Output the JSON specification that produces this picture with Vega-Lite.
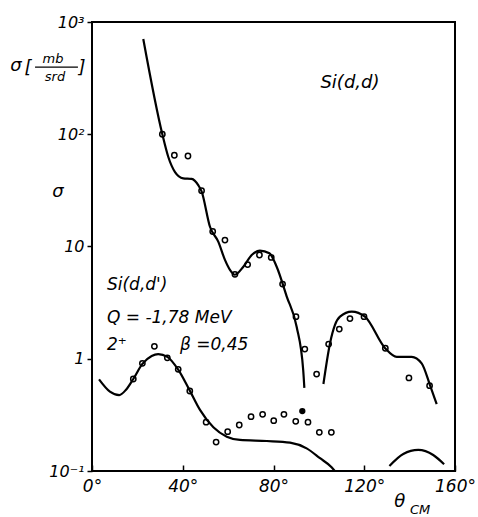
{
  "$schema": "https://vega.github.io/schema/vega-lite/v6.json",
  "width": 363,
  "height": 449,
  "autosize": "none",
  "padding": {"left": 92, "top": 22, "right": 23, "bottom": 46},
  "background": "white",
  "config": {
    "view": {"stroke": "black", "strokeWidth": 2},
    "axis": {"grid": false, "domain": false, "tickColor": "black", "tickWidth": 1.5, "labelColor": "black", "labelFont": "DejaVu Sans", "labelFontStyle": "italic"}
  },
  "datasets": {
    "curves": [
      {"seg": "A", "x": 22.6, "y": 706}, {"seg": "A", "x": 31.0, "y": 100}, {"seg": "A", "x": 33.6, "y": 63}, {"seg": "A", "x": 36.6, "y": 46}, {"seg": "A", "x": 40.2, "y": 40.5}, {"seg": "A", "x": 43.9, "y": 40}, {"seg": "A", "x": 46.9, "y": 35}, {"seg": "A", "x": 48.3, "y": 31}, {"seg": "A", "x": 52.0, "y": 15}, {"seg": "A", "x": 55.7, "y": 11.0}, {"seg": "A", "x": 58.6, "y": 7.6}, {"seg": "A", "x": 60.8, "y": 6.2}, {"seg": "A", "x": 63.0, "y": 5.6}, {"seg": "A", "x": 66.7, "y": 6.6}, {"seg": "A", "x": 70.4, "y": 8.4}, {"seg": "A", "x": 74.0, "y": 9.2}, {"seg": "A", "x": 78.2, "y": 8.7}, {"seg": "A", "x": 81.4, "y": 6.6}, {"seg": "A", "x": 85.8, "y": 3.6}, {"seg": "A", "x": 90.2, "y": 1.93}, {"seg": "A", "x": 93.1, "y": 0.79}, {"seg": "A", "x": 93.6, "y": 0.55},
      {"seg": "B", "x": 102.0, "y": 0.596}, {"seg": "B", "x": 104.9, "y": 1.37}, {"seg": "B", "x": 107.1, "y": 2.0}, {"seg": "B", "x": 109.3, "y": 2.37}, {"seg": "B", "x": 114.5, "y": 2.63}, {"seg": "B", "x": 120.3, "y": 2.37}, {"seg": "B", "x": 129.2, "y": 1.24}, {"seg": "B", "x": 134.3, "y": 1.04}, {"seg": "B", "x": 140.9, "y": 1.04}, {"seg": "B", "x": 145.3, "y": 0.91}, {"seg": "B", "x": 149.0, "y": 0.58}, {"seg": "B", "x": 151.9, "y": 0.395},
      {"seg": "C", "x": 3.1, "y": 0.656}, {"seg": "C", "x": 7.9, "y": 0.51}, {"seg": "C", "x": 12.0, "y": 0.475}, {"seg": "C", "x": 15.0, "y": 0.53}, {"seg": "C", "x": 18.2, "y": 0.66}, {"seg": "C", "x": 22.2, "y": 0.9}, {"seg": "C", "x": 26.3, "y": 1.06}, {"seg": "C", "x": 29.2, "y": 1.1}, {"seg": "C", "x": 33.2, "y": 1.04}, {"seg": "C", "x": 38.0, "y": 0.8}, {"seg": "C", "x": 43.1, "y": 0.52}, {"seg": "C", "x": 47.6, "y": 0.35}, {"seg": "C", "x": 53.5, "y": 0.245}, {"seg": "C", "x": 59.4, "y": 0.202}, {"seg": "C", "x": 65.2, "y": 0.189}, {"seg": "C", "x": 77.0, "y": 0.185}, {"seg": "C", "x": 87.3, "y": 0.179}, {"seg": "C", "x": 94.6, "y": 0.159}, {"seg": "C", "x": 100.5, "y": 0.13}, {"seg": "C", "x": 105.6, "y": 0.108}, {"seg": "C", "x": 107.0, "y": 0.1},
      {"seg": "D", "x": 131.1, "y": 0.111}, {"seg": "D", "x": 137.2, "y": 0.142}, {"seg": "D", "x": 143.8, "y": 0.154}, {"seg": "D", "x": 150.4, "y": 0.139}, {"seg": "D", "x": 155.2, "y": 0.115}
    ],
    "points": [
      {"kind": "open", "x": 31.0, "y": 100}, {"kind": "open", "x": 36.3, "y": 65}, {"kind": "open", "x": 42.3, "y": 64}, {"kind": "open", "x": 48.3, "y": 31.4}, {"kind": "open", "x": 53.2, "y": 13.6}, {"kind": "open", "x": 58.6, "y": 11.4}, {"kind": "open", "x": 63.0, "y": 5.65}, {"kind": "open", "x": 68.6, "y": 6.9}, {"kind": "open", "x": 73.8, "y": 8.4}, {"kind": "open", "x": 79.0, "y": 8.0}, {"kind": "open", "x": 84.0, "y": 4.63}, {"kind": "open", "x": 89.9, "y": 2.37}, {"kind": "open", "x": 93.8, "y": 1.22}, {"kind": "open", "x": 99.0, "y": 0.73}, {"kind": "open", "x": 104.3, "y": 1.35}, {"kind": "open", "x": 109.0, "y": 1.84}, {"kind": "open", "x": 113.7, "y": 2.28}, {"kind": "open", "x": 119.9, "y": 2.37}, {"kind": "open", "x": 129.3, "y": 1.24}, {"kind": "open", "x": 139.7, "y": 0.675}, {"kind": "open", "x": 148.8, "y": 0.575},
      {"kind": "open", "x": 18.2, "y": 0.66}, {"kind": "open", "x": 22.2, "y": 0.91}, {"kind": "open", "x": 27.5, "y": 1.29}, {"kind": "open", "x": 33.2, "y": 1.02}, {"kind": "open", "x": 38.0, "y": 0.805}, {"kind": "open", "x": 43.1, "y": 0.516}, {"kind": "open", "x": 50.3, "y": 0.272}, {"kind": "open", "x": 54.7, "y": 0.181}, {"kind": "open", "x": 59.8, "y": 0.224}, {"kind": "open", "x": 64.9, "y": 0.257}, {"kind": "open", "x": 70.1, "y": 0.305}, {"kind": "open", "x": 75.2, "y": 0.32}, {"kind": "open", "x": 80.1, "y": 0.281}, {"kind": "open", "x": 84.6, "y": 0.32}, {"kind": "open", "x": 89.8, "y": 0.277}, {"kind": "open", "x": 95.2, "y": 0.272}, {"kind": "open", "x": 100.2, "y": 0.221}, {"kind": "open", "x": 105.5, "y": 0.221},
      {"kind": "filled", "x": 92.7, "y": 0.342}
    ],
    "labels": [
      {"role": "big", "x": 113.7, "y": 286, "t": "Si(d,d)", "align": "center"},
      {"role": "big", "x": 6.6, "y": 4.54, "t": "Si(d,d')", "align": "left"},
      {"role": "big", "x": 6.6, "y": 2.31, "t": "Q = -1,78 MeV", "align": "left"},
      {"role": "big", "x": 6.6, "y": 1.33, "t": "2⁺", "align": "left"},
      {"role": "big", "x": 38.8, "y": 1.33, "t": "β =0,45", "align": "left"},
      {"role": "big", "x": -33.5, "y": 405, "t": "σ", "align": "center"},
      {"role": "big", "x": -28.2, "y": 389, "t": "[", "align": "center"},
      {"role": "big", "x": -4.4, "y": 389, "t": "]", "align": "center"},
      {"role": "big", "x": -15, "y": 30.6, "t": "σ", "align": "center"},
      {"role": "big", "x": 135.7, "y": 0.053, "t": "θ", "align": "center"},
      {"role": "small", "x": -17.2, "y": 470, "t": "mb", "align": "center"},
      {"role": "small", "x": -16.3, "y": 322, "t": "srd", "align": "center"},
      {"role": "small", "x": 144.6, "y": 0.045, "t": "CM", "align": "center"}
    ],
    "bar": [{"x": -25.1, "x2": -6.2, "y": 397}]
  },
  "encoding": {
    "x": {"field": "x", "type": "quantitative", "scale": {"domain": [0, 160], "nice": false, "zero": false},
      "axis": {"values": [0, 40, 80, 120, 160], "title": null, "tickSize": -6, "labelPadding": 13, "labelFontSize": 17, "labelExpr": "datum.value + '°'", "labelFlush": false}},
    "y": {"field": "y", "type": "quantitative", "scale": {"type": "log", "domain": [0.1, 1000], "nice": false},
      "axis": {"values": [0.1, 1, 10, 100, 1000], "title": null, "tickSize": 5, "labelPadding": 3, "labelFontSize": 16, "labelFlush": false,
        "labelExpr": "datum.value == 1000 ? '10³' : datum.value == 100 ? '10²' : datum.value == 10 ? '10' : datum.value == 1 ? '1' : '10⁻¹'"}}
  },
  "layer": [
    {"data": {"name": "curves"}, "mark": {"type": "line", "color": "black", "strokeWidth": 2.2, "interpolate": "monotone"},
      "encoding": {"detail": {"field": "seg", "type": "nominal"}}},
    {"data": {"name": "points"}, "transform": [{"filter": "datum.kind == 'open'"}],
      "mark": {"type": "point", "filled": false, "color": "black", "strokeWidth": 1.5, "size": 28, "opacity": 1}},
    {"data": {"name": "points"}, "transform": [{"filter": "datum.kind == 'filled'"}],
      "mark": {"type": "point", "filled": true, "color": "black", "size": 40, "opacity": 1}},
    {"data": {"name": "labels"}, "transform": [{"filter": "datum.role == 'big' && datum.align == 'left'"}],
      "mark": {"type": "text", "align": "left", "baseline": "middle", "font": "DejaVu Sans", "fontStyle": "italic", "fontSize": 17, "color": "black"},
      "encoding": {"text": {"field": "t"}}},
    {"data": {"name": "labels"}, "transform": [{"filter": "datum.role == 'big' && datum.align == 'center'"}],
      "mark": {"type": "text", "align": "center", "baseline": "middle", "font": "DejaVu Sans", "fontStyle": "italic", "fontSize": 18, "color": "black"},
      "encoding": {"text": {"field": "t"}}},
    {"data": {"name": "labels"}, "transform": [{"filter": "datum.role == 'small'"}],
      "mark": {"type": "text", "align": "center", "baseline": "middle", "font": "DejaVu Sans", "fontStyle": "italic", "fontSize": 13, "color": "black"},
      "encoding": {"text": {"field": "t"}}},
    {"data": {"name": "bar"}, "mark": {"type": "rule", "color": "black", "strokeWidth": 1.3},
      "encoding": {"x2": {"field": "x2"}}}
  ]
}
